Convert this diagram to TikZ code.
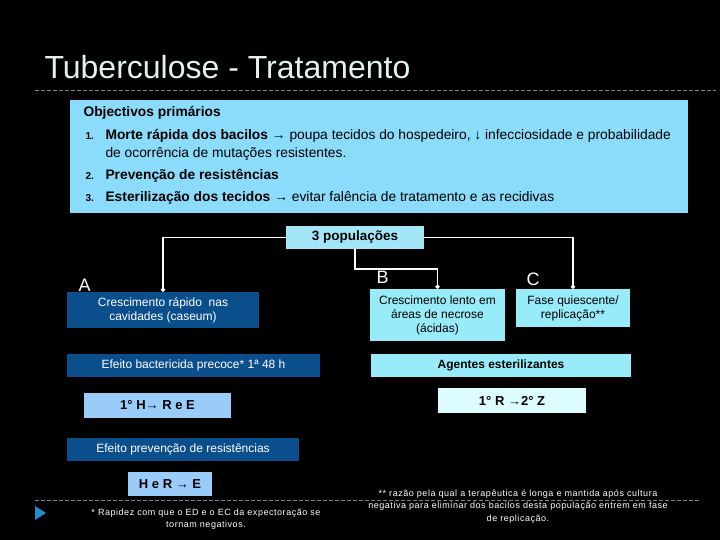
\documentclass[tikz,border=0pt]{standalone}
\usepackage{fontspec}
\setmainfont{Liberation Sans}
\usetikzlibrary{arrows.meta,positioning}
\definecolor{slidebg}{HTML}{000000}
\definecolor{titlefg}{HTML}{E2F2F0}
\definecolor{rulegrey}{HTML}{6A8C9C}
\definecolor{panelblue}{HTML}{8ADCFA}
\definecolor{popcyan}{HTML}{A2E6F8}
\definecolor{aquabox}{HTML}{98ECFA}
\definecolor{palecyan}{HTML}{DCFCFF}
\definecolor{deepblue}{HTML}{0B4E8C}
\definecolor{skyblue}{HTML}{9ACCFA}
\definecolor{marker}{HTML}{1E8ED0}

\begin{document}
\begin{tikzpicture}[x=1pt,y=-1pt,
  darkbox/.style={fill=deepblue,text=white,font=\fontsize{12}{14}\selectfont,align=center,inner sep=0pt},
  lightbox/.style={fill=#1,text=black,font=\fontsize{12}{14}\selectfont,align=center,inner sep=0pt},
  popletter/.style={anchor=base west,text=white,font=\fontsize{18}{20}\selectfont},
  itemtext/.style={anchor=base west,text=black,font=\fontsize{13.8}{16}\selectfont},
  itemnum/.style={anchor=base west,text=black,font=\fontsize{10}{12}\selectfont\bfseries},
  footnote/.style={text=white,align=center,font=\fontsize{9}{12.5}\selectfont\addfontfeatures{LetterSpace=6}},
  link/.style={draw=white,line width=1.5pt,-{Circle[length=4pt]}},
  dashrule/.style={draw=rulegrey,line width=0.8pt,dash pattern=on 4pt off 2pt}]
  % background and margins
  \fill[slidebg] (0,0) rectangle (720,540);
  \useasboundingbox (0,0) rectangle (720,540);

  % title
  \node[anchor=base west,text=titlefg,font=\fontsize{32}{36}\selectfont] (title) at (41,79) {Tuberculose - Tratamento};
  \draw[dashrule] (35,90) -- (716,90);

  % objectives panel
  \node[fill=panelblue,minimum width=618pt,minimum height=113pt,inner sep=0pt] (panel) at (379,156.5) {};
  \node[itemtext] (obj) at (80,117) {\bfseries Objectivos primários};
  \node[itemnum] (n1) at (82,140) {1.};
  \node[itemtext] (t1) at (102,140) {\textbf{Morte rápida dos bacilos} → poupa tecidos do hospedeiro, ↓ infecciosidade e probabilidade};
  \node[itemtext] (t1b) at (102,158) {de ocorrência de mutações resistentes.};
  \node[itemnum] (n2) at (82,180) {2.};
  \node[itemtext] (t2) at (102,180) {\textbf{Prevenção de resistências}};
  \node[itemnum] (n3) at (82,202) {3.};
  \node[itemtext] (t3) at (102,202) {\textbf{Esterilização dos tecidos} → evitar falência de tratamento e as recidivas};

  % the three populations
  \node[lightbox=popcyan,minimum width=138pt,minimum height=23pt,font=\fontsize{13.5}{16}\selectfont\bfseries] (pop) at (355,237.5) {3 populações};
  \node[darkbox,minimum width=192pt,minimum height=36pt] (popA) at (163,310) {Crescimento rápido\ \ nas\\cavidades (caseum)};
  \node[lightbox=aquabox,minimum width=135pt,minimum height=52pt] (popB) at (437.5,315) {Crescimento lento em\\áreas de necrose\\(ácidas)};
  \node[lightbox=aquabox,minimum width=114pt,minimum height=38pt] (popC) at (573,308) {Fase quiescente/\\replicação**};
  \node[popletter] (lblA) at (75,291) {A};
  \node[popletter] (lblB) at (373,283) {B};
  \node[popletter] (lblC) at (523,285) {C};

  \draw[link] (pop.west) -| (popA.north);
  \draw[link] (pop.east) -| (popC.north);
  \draw[link] (pop.south) -- ++(0,20) -| (popB.north);

  % effects
  \node[darkbox,minimum width=253pt,minimum height=23pt] (early) at (193.5,365.5) {Efeito bactericida precoce* 1ª 48 h};
  \node[lightbox=aquabox,minimum width=260pt,minimum height=23pt,font=\fontsize{12}{14}\selectfont\bfseries] (steril) at (501,365.5) {Agentes esterilizantes};
  \node[lightbox=skyblue,minimum width=147pt,minimum height=25pt,font=\fontsize{13}{15}\selectfont\bfseries] (hre) at (157.5,405.5) {1° H→ R e E};
  \node[lightbox=palecyan,minimum width=148pt,minimum height=25pt,font=\fontsize{13}{15}\selectfont\bfseries] (rz) at (512,400.5) {1° R →2° Z};
  \node[darkbox,minimum width=232pt,minimum height=23pt] (prev) at (183,449.5) {Efeito prevenção de resistências};
  \node[lightbox=skyblue,minimum width=84pt,minimum height=24pt,font=\fontsize{13}{15}\selectfont\bfseries] (hrtoe) at (170,484) {H e R → E};

  % footer
  \draw[dashrule] (35,500) -- (700,500);
  \fill[marker] (35,506) -- (46,513) -- (35,520) -- cycle;
  \node[footnote,anchor=north] (noteA) at (206,505) {* Rapidez com que o ED e o EC da expectoração se\\tornam negativos.};
  \node[footnote,anchor=north] (noteB) at (518,486) {** razão pela qual a terapêutica é longa e mantida após cultura\\negativa para eliminar dos bacilos desta população entrem em fase\\de replicação.};
\end{tikzpicture}
\end{document}
